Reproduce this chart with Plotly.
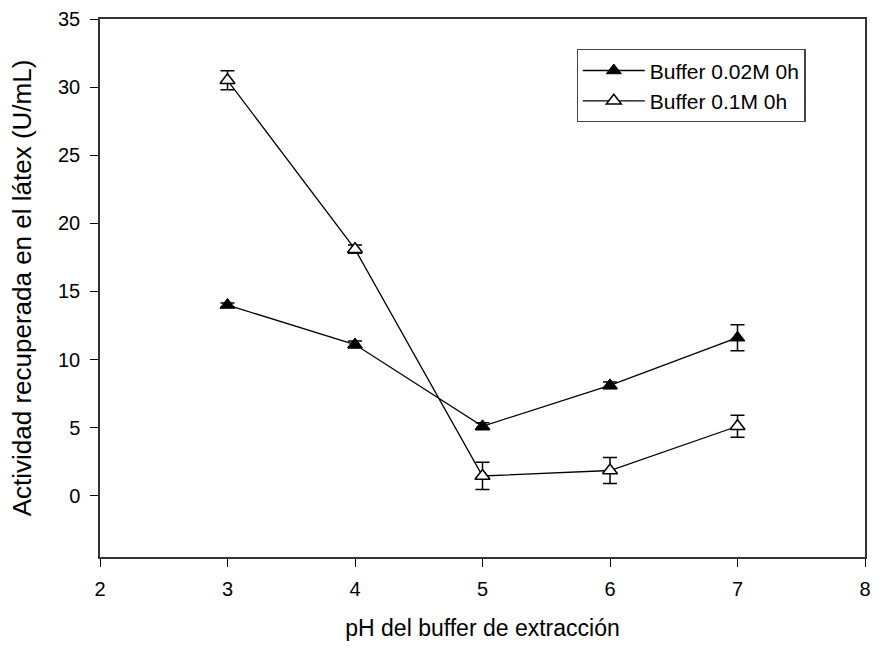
import plotly.graph_objects as go

ph = [3, 4, 5, 6, 7]
act_002 = [14.0, 11.1, 5.1, 8.1, 11.6]
err_002 = [0.15, 0.25, 0.25, 0.25, 0.95]
act_01 = [30.5, 18.1, 1.45, 1.85, 5.1]
err_01 = [0.7, 0.3, 1.0, 0.95, 0.8]

font_family = "Liberation Sans, Arial, sans-serif"

fig = go.Figure()
fig.add_trace(go.Scatter(
    x=ph, y=act_002, mode="lines+markers", name="Buffer 0.02M 0h",
    line=dict(color="black", width=1.3),
    marker=dict(symbol="triangle-up", size=13, color="black", line=dict(color="black", width=1)),
    error_y=dict(type="data", array=err_002, visible=True, color="black", thickness=1.5, width=7),
))
fig.add_trace(go.Scatter(
    x=ph, y=act_01, mode="lines+markers", name="Buffer 0.1M 0h",
    line=dict(color="black", width=1.3),
    marker=dict(symbol="triangle-up", size=13, color="white", line=dict(color="black", width=1.5)),
    error_y=dict(type="data", array=err_01, visible=True, color="black", thickness=1.5, width=7),
))

fig.update_layout(
    width=879, height=649,
    margin=dict(l=100, r=8, t=17, b=92),
    paper_bgcolor="white", plot_bgcolor="white",
    font=dict(family=font_family, size=20, color="black"),
    showlegend=True,
    legend=dict(
        x=0.623, y=0.944, xanchor="left", yanchor="top",
        bordercolor="#444", borderwidth=1.2, bgcolor="white",
        font=dict(size=21, family=font_family),
        tracegroupgap=0, itemwidth=62,
    ),
    xaxis=dict(
        range=[2, 8], tickvals=[2, 3, 4, 5, 6, 7, 8],
        ticks="outside", ticklen=8, tickwidth=1.3, tickcolor="black",
        showline=True, linecolor="#333", linewidth=1.5, mirror=True,
        showgrid=False, zeroline=False, ticklabelstandoff=5,
        title=dict(text="pH del buffer de extracción", font=dict(size=23), standoff=21),
        tickfont=dict(size=20),
    ),
    yaxis=dict(
        range=[-4.5, 35], tickvals=[0, 5, 10, 15, 20, 25, 30, 35],
        ticks="outside", ticklen=8, tickwidth=1.3, tickcolor="black",
        showline=True, linecolor="#333", linewidth=1.5, mirror=True,
        showgrid=False, zeroline=False, ticklabelstandoff=6,
        title=dict(text="Actividad recuperada en el látex (U/mL)", font=dict(size=26), standoff=19),
        tickfont=dict(size=20),
    ),
)

fig.write_html("out.html")
